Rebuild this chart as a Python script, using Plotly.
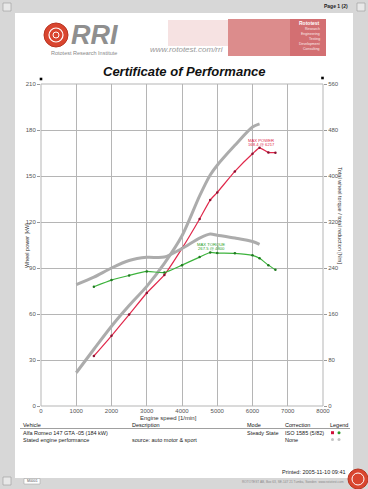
import plotly.graph_objects as go

# ---------------- data ----------------
rpm_meas = [1500, 2000, 2500, 3000, 3500, 4000, 4500, 4800, 5000, 5500, 6000, 6200, 6450, 6650]
power_meas_kw = [32.6, 45.8, 59.6, 73.7, 85.5, 102.8, 122.0, 134.3, 139.3, 153.0, 164.5, 168.4, 165.4, 165.2]
torque_meas_nm = [207.5, 219.0, 227.0, 234.0, 232.0, 245.0, 259.0, 267.0, 266.0, 265.5, 262.0, 257.0, 245.0, 237.0]

rpm_stated = [1000, 1500, 2000, 2500, 3000, 3500, 4000, 4500, 4800, 5000, 5500, 6000, 6200]
power_stated_kw = [21.7, 37.0, 52.0, 65.5, 78.0, 93.0, 111.0, 137.0, 150.6, 157.0, 170.0, 182.0, 184.0]
torque_stated_nm = [211.0, 224.0, 240.0, 253.0, 258.5, 259.0, 274.0, 292.0, 299.0, 297.0, 292.0, 286.0, 281.0]

x_ticks = [0, 1000, 2000, 3000, 4000, 5000, 6000, 7000, 8000]
y_left_ticks = [0, 30, 60, 90, 120, 150, 180, 210]
y_right_ticks = [0, 80, 160, 240, 320, 400, 480, 560]

max_power_label = ["MAX POWER", "168.4 @ 6217"]
max_torque_label = ["MAX TORQUE", "267.5 @ 4800"]

# ---------------- layout helpers ----------------
W_PAGE, H_PAGE = 368, 489
L, R, T, B = 41, 323, 84, 406


def pxx(x):
    return (x - L) / (R - L)


def pxy(y):
    return (B - y) / (B - T)


FONT = "Liberation Sans, Arial, sans-serif"
RED = "#e0284b"
GREEN = "#3cb33c"
GRAY = "#acacac"

fig = go.Figure()

fig.add_trace(go.Scatter(x=rpm_stated, y=power_stated_kw, mode="lines",
                         line=dict(color=GRAY, width=3, shape="spline", smoothing=0.8),
                         hoverinfo="skip", showlegend=False))
fig.add_trace(go.Scatter(x=rpm_stated, y=torque_stated_nm, mode="lines", yaxis="y2",
                         line=dict(color=GRAY, width=3, shape="spline", smoothing=0.8),
                         hoverinfo="skip", showlegend=False))
fig.add_trace(go.Scatter(x=rpm_meas, y=torque_meas_nm, mode="lines+markers", yaxis="y2",
                         line=dict(color=GREEN, width=1.2, shape="spline", smoothing=0.5),
                         marker=dict(size=2.5, color="#1f7a1f"),
                         showlegend=False))
fig.add_trace(go.Scatter(x=rpm_meas, y=power_meas_kw, mode="lines+markers",
                         line=dict(color=RED, width=1.2, shape="spline", smoothing=0.5),
                         marker=dict(size=2.5, color="#8a1030"),
                         showlegend=False))

tickfont = dict(family=FONT, size=6, color="#555")
fig.update_layout(
    width=W_PAGE, height=H_PAGE, autosize=False,
    margin=dict(l=L, r=W_PAGE - R, t=T, b=H_PAGE - B, pad=0),
    paper_bgcolor="#d7d7d7",
    plot_bgcolor="#f1f1f1",
    showlegend=False,
    xaxis=dict(range=[0, 8000], tickvals=x_ticks, ticktext=[str(v) for v in x_ticks],
               showgrid=True, gridcolor="#b5b5b5", gridwidth=1, zeroline=False,
               ticks="", ticklabelstandoff=0, tickfont=tickfont,
               showline=False, fixedrange=True),
    yaxis=dict(range=[0, 210], tickvals=y_left_ticks, ticktext=[str(v) for v in y_left_ticks],
               showgrid=True, gridcolor="#b5b5b5", gridwidth=1, zeroline=False,
               ticks="outside", ticklen=3, tickcolor="#999", tickfont=tickfont,
               showline=False, fixedrange=True),
    yaxis2=dict(range=[0, 560], tickvals=y_right_ticks, ticktext=[str(v) for v in y_right_ticks],
                overlaying="y", side="right", showgrid=False, zeroline=False,
                ticks="outside", ticklen=3, tickcolor="#999", tickfont=tickfont,
                showline=False, fixedrange=True),
)

shapes = []
# white page
shapes.append(dict(type="rect", xref="paper", yref="paper",
                   x0=pxx(15), x1=pxx(353), y0=pxy(478), y1=pxy(13),
                   fillcolor="white", line=dict(width=0), layer="below"))
# plot frame border lines
shapes.append(dict(type="rect", xref="paper", yref="paper", x0=0, x1=1, y0=0, y1=1,
                   line=dict(color="#b5b5b5", width=1), layer="above"))
# header: rri logo circle
shapes.append(dict(type="circle", xref="paper", yref="paper",
                   x0=pxx(44), x1=pxx(68), y0=pxy(47), y1=pxy(23),
                   fillcolor="#d9452f", line=dict(color="#b83522", width=1)))
shapes.append(dict(type="circle", xref="paper", yref="paper",
                   x0=pxx(49), x1=pxx(63), y0=pxy(42), y1=pxy(28),
                   fillcolor="rgba(0,0,0,0)", line=dict(color="white", width=1.2)))
shapes.append(dict(type="circle", xref="paper", yref="paper",
                   x0=pxx(53), x1=pxx(59), y0=pxy(38), y1=pxy(32),
                   fillcolor="rgba(0,0,0,0)", line=dict(color="white", width=1)))
# header: faint drawing and red picture
shapes.append(dict(type="rect", xref="paper", yref="paper",
                   x0=pxx(168), x1=pxx(228), y0=pxy(46), y1=pxy(20),
                   fillcolor="#f6e2e2", line=dict(width=0)))
shapes.append(dict(type="rect", xref="paper", yref="paper",
                   x0=pxx(228), x1=pxx(326), y0=pxy(56), y1=pxy(19),
                   fillcolor="#dc8c8c", line=dict(width=0)))
shapes.append(dict(type="rect", xref="paper", yref="paper",
                   x0=pxx(290), x1=pxx(326), y0=pxy(56), y1=pxy(19),
                   fillcolor="#d36f72", line=dict(width=0)))
# small black corner squares
for cx, cy in [(41, 79), (322.5, 78)]:
    shapes.append(dict(type="rect", xref="paper", yref="paper",
                       x0=pxx(cx - 1.3), x1=pxx(cx + 1.3), y0=pxy(cy + 1.3), y1=pxy(cy - 1.3),
                       fillcolor="black", line=dict(width=0)))
# table header rule
shapes.append(dict(type="line", xref="paper", yref="paper",
                   x0=pxx(20), x1=pxx(350), y0=pxy(428.5), y1=pxy(428.5),
                   line=dict(color="#888", width=0.8)))
# legend symbols
shapes.append(dict(type="rect", xref="paper", yref="paper",
                   x0=pxx(331), x1=pxx(334), y0=pxy(434.2), y1=pxy(431.2),
                   fillcolor="#d0103a", line=dict(width=0)))
for cx, cy, col in [(339, 432.7, "#2a9a2a"), (332.5, 439.5, "#c4c4c4"), (339, 439.5, "#c4c4c4")]:
    shapes.append(dict(type="circle", xref="paper", yref="paper",
                       x0=pxx(cx - 1.5), x1=pxx(cx + 1.5), y0=pxy(cy + 1.5), y1=pxy(cy - 1.5),
                       fillcolor=col, line=dict(width=0)))
# page corner icons
for cx, cy in [(7, 7), (361, 7), (7, 481)]:
    shapes.append(dict(type="rect", xref="paper", yref="paper",
                       x0=pxx(cx - 4), x1=pxx(cx + 4), y0=pxy(cy + 4), y1=pxy(cy - 4),
                       fillcolor="#e8e8e8", line=dict(color="#999", width=0.6)))
# bottom small box
shapes.append(dict(type="rect", xref="paper", yref="paper",
                   x0=pxx(24), x1=pxx(40), y0=pxy(484), y1=pxy(478.5),
                   fillcolor="white", line=dict(color="#999", width=0.5)))
# bottom-right red logo
shapes.append(dict(type="circle", xref="paper", yref="paper",
                   x0=pxx(348), x1=pxx(368), y0=pxy(489), y1=pxy(469),
                   fillcolor="#d9452f", line=dict(color="#b83522", width=1)))
shapes.append(dict(type="circle", xref="paper", yref="paper",
                   x0=pxx(352), x1=pxx(364), y0=pxy(485), y1=pxy(473),
                   fillcolor="rgba(0,0,0,0)", line=dict(color="white", width=1)))
fig.update_layout(shapes=shapes)

ann = []


def text(x, y, s, size=6, color="#222", xanchor="left", bold=False, italic=False,
         textangle=0, yanchor="middle"):
    if bold:
        s = "<b>" + s + "</b>"
    if italic:
        s = "<i>" + s + "</i>"
    ann.append(dict(x=pxx(x), y=pxy(y), xref="paper", yref="paper", text=s,
                    showarrow=False, xanchor=xanchor, yanchor=yanchor,
                    textangle=textangle,
                    font=dict(family=FONT, size=size, color=color)))


# header texts
text(69, 34.5, "RRI", size=27, color="#8f8f8f", bold=True, italic=True)
text(84, 53, "Rototest Research Institute", size=5.5, color="#888", xanchor="center")
text(186, 50, "www.rototest.com/rri", size=8, color="#999", xanchor="center", italic=True)
text(322, 23, "Rototest", size=5, color="white", xanchor="right", bold=True)
for i, s in enumerate(["Research", "Engineering", "Testing", "Development", "Consulting"]):
    text(322, 29 + i * 5, s, size=3.5, color="#fbeaea", xanchor="right")
text(184, 71, "Certificate of Performance", size=13, color="#111", xanchor="center",
     bold=True, italic=True)
text(350, 6, "Page 1 (2)", size=5, color="#222", xanchor="right", bold=True)

# axis titles
text(27, 246, "Wheel power [kW]", size=5.5, color="#333", xanchor="center", textangle=-90)
text(340, 215, "Total wheel torque / total reduction [Nm]", size=5.5, color="#333",
     xanchor="center", textangle=90)
text(168, 417.5, "Engine speed [1/min]", size=6, color="#333", xanchor="center")

# max labels
text(261, 140, max_power_label[0], size=4.2, color=RED, xanchor="center")
text(261, 144.5, max_power_label[1], size=4.2, color=RED, xanchor="center")
text(211, 244, max_torque_label[0], size=4.2, color="#28a028", xanchor="center")
text(211, 248.5, max_torque_label[1], size=4.2, color="#28a028", xanchor="center")

# table
for x, s in [(20.5, "Vehicle"), (129.5, "Description"), (245, "Mode"), (283, "Correction"),
             (328, "Legend")]:
    text(x, 425, s, size=5.5, color="#111")
text(20.5, 432.7, "Alfa Romeo 147 GTA -05 (184 kW)", size=5.5)
text(245, 432.7, "Steady State", size=5.5)
text(283, 432.7, "ISO 1585 (5/82)", size=5.5)
text(20.5, 439.5, "Stated engine performance", size=5.5)
text(129.5, 439.5, "source: auto motor &amp; sport", size=5.5)
text(283, 439.5, "None", size=5.5)

text(348, 471.5, "Printed: 2005-11-10 09:41", size=5.5, color="#222", xanchor="right")
text(32, 481.3, "M0001", size=3.5, color="#555", xanchor="center")
text(346, 482, "ROTOTEST AB, Box 63, SE-147 21 Tumba, Sweden  www.rototest.com", size=3.2,
     color="#8a8a8a", xanchor="right")

fig.update_layout(annotations=ann)

fig.write_html("out.html", config={"displayModeBar": False},
               post_script="document.body.style.margin='0px';document.body.style.overflow='hidden';")
